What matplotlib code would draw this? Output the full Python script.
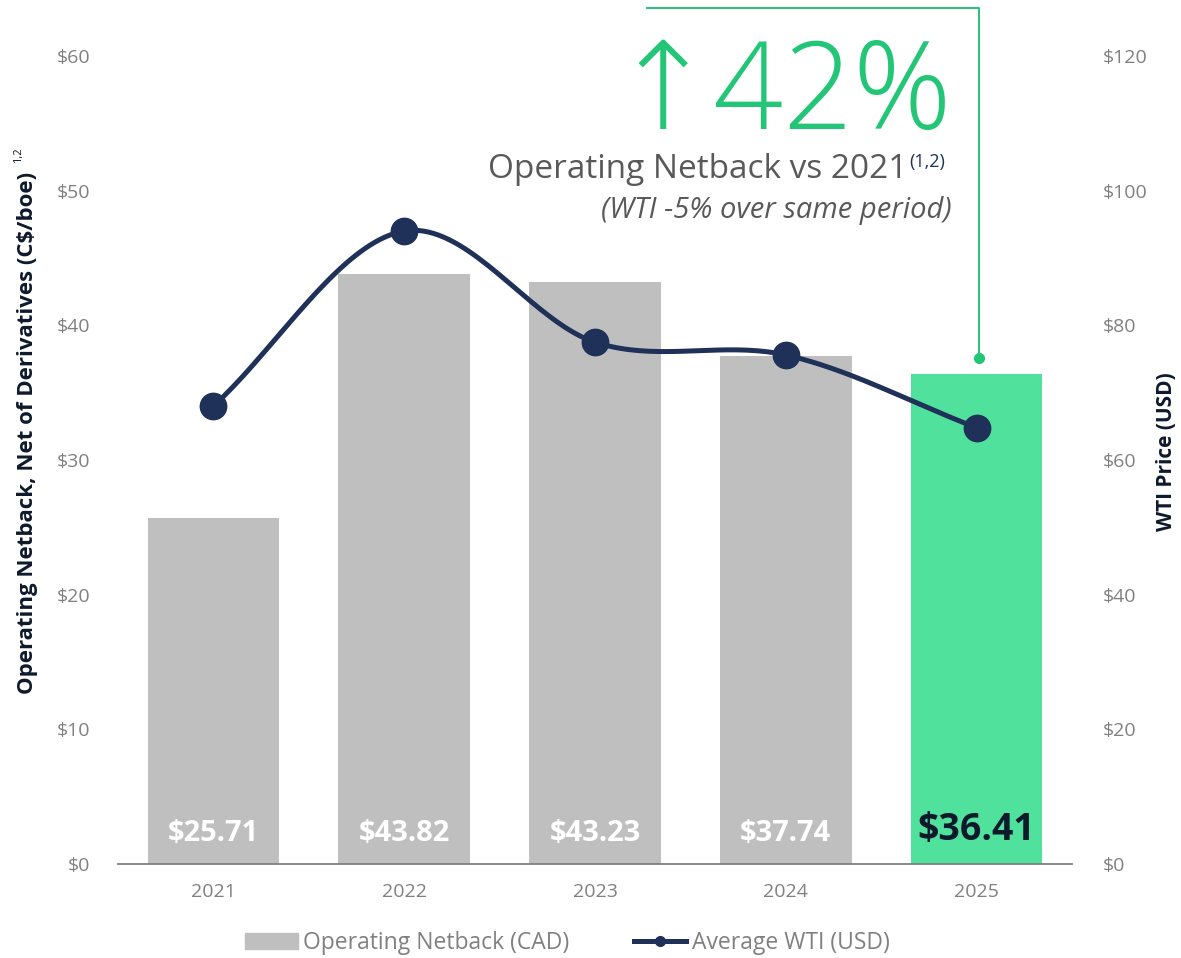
import numpy as np
import matplotlib.pyplot as plt
from matplotlib.lines import Line2D
from matplotlib.patches import Patch

plt.rcParams['font.family'] = ['Open Sans', 'DejaVu Sans']

# data
years = ['2021', '2022', '2023', '2024', '2025']
netback = [25.71, 43.82, 43.23, 37.74, 36.41]
wti = [68.0, 94.0, 77.5, 75.6, 64.8]
netback_labels = ['$25.71', '$43.82', '$43.23', '$37.74', '$36.41']
left_ticks = [0, 10, 20, 30, 40, 50, 60]
right_ticks = [0, 20, 40, 60, 80, 100, 120]

GRAY = '#BFBFBF'
GREEN_BAR = '#50E19C'
GREEN = '#23C576'
NAVY = '#1F3158'
TICK = '#808080'


def catmull_rom(xs, ys, n=40):
    # smooth line through the points (like the "smoothed line" option)
    xs = np.asarray(xs, float)
    ys = np.asarray(ys, float)
    px = np.concatenate([[2 * xs[0] - xs[1]], xs, [2 * xs[-1] - xs[-2]]])
    py = np.concatenate([[2 * ys[0] - ys[1]], ys, [2 * ys[-1] - ys[-2]]])
    ox, oy = [], []
    t = np.linspace(0, 1, n)
    for i in range(1, len(px) - 2):
        for p, out in ((px, ox), (py, oy)):
            p0, p1, p2, p3 = p[i - 1], p[i], p[i + 1], p[i + 2]
            out.extend(0.5 * ((2 * p1) + (-p0 + p2) * t
                              + (2 * p0 - 5 * p1 + 4 * p2 - p3) * t ** 2
                              + (-p0 + 3 * p1 - 3 * p2 + p3) * t ** 3))
    return np.array(ox), np.array(oy)


fig = plt.figure(figsize=(11.81, 9.58), dpi=100)
ax = fig.add_axes([0.0999, 0.0981, 0.8078, 0.8434])
ax2 = ax.twinx()

x = np.arange(len(years))
colors = [GRAY] * 4 + [GREEN_BAR]
ax.bar(x, netback, width=0.69, color=colors, zorder=1)

for i, lab in enumerate(netback_labels):
    if i == 4:
        ax.text(i, 2.5, lab, ha='center', va='center', fontsize=27,
                fontweight='bold', color='#0E1A2B')
    else:
        ax.text(i, 2.3, lab, ha='center', va='center', fontsize=21,
                fontweight='bold', color='white')

ax.set_xlim(-0.5, 4.5)
ax.set_ylim(0, 60)
ax2.set_ylim(0, 120)
ax.set_yticks(left_ticks)
ax.set_yticklabels(['$%d' % v for v in left_ticks])
ax2.set_yticks(right_ticks)
ax2.set_yticklabels(['$%d' % v for v in right_ticks])
ax.set_xticks(x)
ax.set_xticklabels(years)

for a in (ax, ax2):
    for s in ('top', 'right', 'left'):
        a.spines[s].set_visible(False)
    a.tick_params(length=0, labelsize=14, labelcolor=TICK)
ax2.spines['bottom'].set_visible(False)
ax.spines['bottom'].set_color('#7F7F7F')
ax.spines['bottom'].set_linewidth(1.3)
ax.tick_params(axis='y', pad=20)
ax.tick_params(axis='x', pad=14)
ax2.tick_params(axis='y', pad=22)

# WTI smooth line
sx, sy = catmull_rom(x, wti)
ax2.plot(sx, sy, color=NAVY, lw=3.6, zorder=3, solid_capstyle='round')
ax2.plot(x, wti, 'o', color=NAVY, ms=19, zorder=4)

# axis labels
fig.text(0.0237, 0.548, 'Operating Netback, Net of Derivatives (C$/boe)',
         rotation=90, ha='center', va='center', fontsize=16,
         fontweight='bold', color='#0E1A2B')
fig.text(0.0160, 0.838, '1,2', rotation=90, ha='center', va='center',
         fontsize=8, color='#0E1A2B')
fig.text(0.988, 0.529, 'WTI Price (USD)', rotation=90, ha='center',
         va='center', fontsize=15, fontweight='bold', color='#0E1A2B')

# callout bracket
ax.plot([2.27, 4.01, 4.01], [63.55, 63.55, 37.6], color=GREEN, lw=1.4,
        clip_on=False, zorder=5)
ax.plot([4.01], [37.6], 'o', color=GREEN, ms=7, clip_on=False, zorder=5)

fig.text(0.806, 0.865, '\u219142%', ha='right', va='baseline', fontsize=88,
         fontweight='light', color=GREEN)
fig.text(0.768, 0.814, 'Operating Netback vs 2021', ha='right',
         va='baseline', fontsize=24, color='#595959')
fig.text(0.770, 0.826, '(1,2)', ha='left', va='baseline', fontsize=13,
         color=NAVY)
fig.text(0.806, 0.772, '(WTI -5% over same period)', ha='right',
         va='baseline', fontsize=21, style='italic', color='#595959')

# legend
handles = [Patch(color=GRAY),
           Line2D([], [], color=NAVY, lw=3.6, marker='o', ms=7)]
fig.legend(handles, ['Operating Netback (CAD)', 'Average WTI (USD)'],
           loc='lower center', bbox_to_anchor=(0.4805, -0.018), ncol=2,
           frameon=False, fontsize=16.5, labelcolor='#808080',
           handlelength=2.3, handletextpad=0.25, columnspacing=2.8)

fig.savefig('out.png', dpi=100)
